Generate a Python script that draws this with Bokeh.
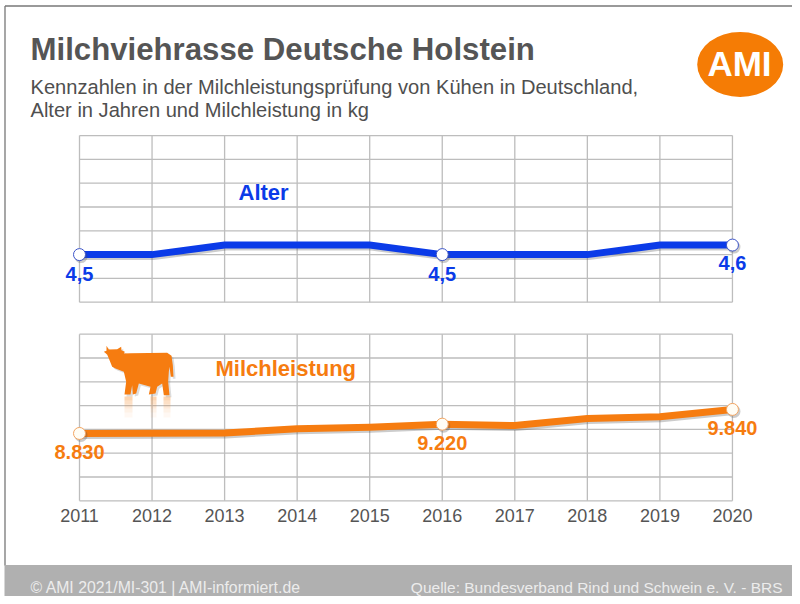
from bokeh.plotting import figure
from bokeh.models import Range1d
from bokeh.core.properties import value
from bokeh.embed import file_html
from bokeh.resources import INLINE

# ---- data
years = [2011, 2012, 2013, 2014, 2015, 2016, 2017, 2018, 2019, 2020]
alter = [4.5, 4.5, 4.6, 4.6, 4.6, 4.5, 4.5, 4.5, 4.6, 4.6]
milch = [8830, 8840, 8850, 9025, 9090, 9220, 9160, 9460, 9530, 9840]
marked_years = [2011, 2016, 2020]
alter_marked = [4.5, 4.5, 4.6]
milch_marked = [8830, 9220, 9840]
alter_labels = ["4,5", "4,5", "4,6"]
milch_labels = ["8.830", "9.220", "9.840"]
alter_ticks = [4.0, 4.25, 4.5, 4.75, 5.0, 5.25, 5.5, 5.75]
milch_ticks = [6000, 7000, 8000, 9000, 10000, 11000, 12000, 13000]

title = "Milchviehrasse Deutsche Holstein"
subtitle = ["Kennzahlen in der Milchleistungsprüfung von Kühen in Deutschland,",
            "Alter in Jahren und Milchleistung in kg"]
footer_left = "© AMI 2021/MI-301 | AMI-informiert.de"
footer_right = "Quelle: Bundesverband Rind und Schwein e. V. - BRS"

W, H = 792, 596
BLUE = "#0b3be8"
ORANGE = "#f67c10"
GRID = "#bdbdbd"
TXT = "#4f4f4f"
FONT = value("Liberation Sans")
BL = 0.4         # rendered baseline drop, in em

X0, XSTEP = 79.0, 72.55
def xr(shift=0.0):
    return Range1d(2011 - (X0 + shift) / XSTEP, 2011 + (W - X0 - shift) / XSTEP)

def yr(v0, px0, per_px, shift=0.0):
    px0 = px0 + shift
    return Range1d(v0 - (H - px0) * per_px, v0 + px0 * per_px)

ALTER_PX = 0.25 / 23.8
MILCH_PX = 1000 / 23.8

p = figure(width=W, height=H, x_range=xr(),
           y_range=yr(4.0, 301.7, ALTER_PX),
           x_axis_type=None, y_axis_type=None, toolbar_location=None,
           output_backend="svg", min_border=0, outline_line_color=None,
           background_fill_color="white", border_fill_color="white",
           margin=(0, -8, -8, 0))
p.extra_y_ranges = {
    "milch": yr(6000, 500.3, MILCH_PX),
    "alter_sh": yr(4.0, 301.7, ALTER_PX, 2.0),
    "milch_sh": yr(6000, 500.3, MILCH_PX, 2.0),
    "py": Range1d(H, 0),
}
p.extra_x_ranges = {"px": Range1d(0, W), "xsh": xr(1.5)}
PX = dict(x_range_name="px", y_range_name="py")

# ---- page frame and footer
p.segment([4.5, 4.5], [5.5, 5.5], [800, 4.5], [5.5, 565], line_color="#777777", line_width=1.3, **PX)
p.quad(left=[4], right=[800], top=[564.5], bottom=[604], fill_color="#b0b0b0", line_color=None, **PX)

# ---- grids
for name, ticks in ((None, alter_ticks), ("milch", milch_ticks)):
    kw = {"y_range_name": name} if name else {}
    lo, hi = ticks[0], ticks[-1]
    p.segment(years, [lo] * len(years), years, [hi] * len(years), line_color=GRID, line_width=1.3, **kw)
    p.segment([years[0]] * len(ticks), ticks, [years[-1]] * len(ticks), ticks, line_color=GRID, line_width=1.3, **kw)

# ---- cow (page pixels)
cow_z = [(25,40),(33,37),(33,22),(40,33),(65,32),(77,25),(78,35),(88,40),(85,45),(105,44),(215,43),(228,52),
         (232,80),(234,115),(226,115),(222,85),(220,100),(218,130),(222,170),(205,170),(200,135),(185,145),
         (180,165),(160,168),(165,145),(130,135),(122,165),(112,168),(110,140),(105,168),(87,168),(92,130),
         (85,100),(60,90),(50,85),(40,60),(35,48)]
cx = [95 + a / 3 for a, b in cow_z]
cy = [338 + b / 3 for a, b in cow_z]
p.patch([a + 2 for a in cx], [b + 2 for b in cy], fill_color="#777777", fill_alpha=0.25, line_color=None, **PX)
p.patch(cx, cy, fill_color=ORANGE, line_color=None, **PX)
bands = [(396, 400, .32), (400, 404, .24), (404, 408, .16), (408, 412, .10), (412, 417, .05)]
for top, bot, al in bands:
    p.quad(left=[124, 150, 163], right=[132, 156, 170], top=[top] * 3, bottom=[bot] * 3,
           fill_color=ORANGE, fill_alpha=al, line_color=None, **PX)

# ---- series
p.line(years, alter, x_range_name="xsh", y_range_name="alter_sh", line_color="#555555", line_alpha=0.3, line_width=7)
p.line(years, milch, x_range_name="xsh", y_range_name="milch_sh", line_color="#555555", line_alpha=0.3, line_width=7)
p.line(years, alter, line_color=BLUE, line_width=7, line_join="miter")
p.line(years, milch, y_range_name="milch", line_color=ORANGE, line_width=7, line_join="miter")
p.scatter(marked_years, alter_marked, x_range_name="xsh", y_range_name="alter_sh", size=13, fill_color="#555555", fill_alpha=0.3, line_color=None)
p.scatter(marked_years, milch_marked, x_range_name="xsh", y_range_name="milch_sh", size=13, fill_color="#555555", fill_alpha=0.3, line_color=None)
p.scatter(marked_years, alter_marked, size=12, fill_color="white", line_color="#3d55c8", line_width=1)
p.scatter(marked_years, milch_marked, y_range_name="milch", size=12, fill_color="#fffdf5", line_color="#f3a562", line_width=1)

# ---- value labels
p.text(marked_years, alter_marked, text=alter_labels, y_offset=[27 - 8, 27 - 8, 26 - 8], text_align="center",
       text_baseline="alphabetic", text_color=BLUE, text_font=FONT, text_font_size="20px", text_font_style="bold")
p.text(marked_years, milch_marked, text=milch_labels, y_offset=27 - 8, y_range_name="milch", text_align="center",
       text_baseline="alphabetic", text_color=ORANGE, text_font=FONT, text_font_size="20px", text_font_style="bold")

# ---- year labels
p.text(years, [milch_ticks[0]] * len(years), text=[str(y) for y in years], y_offset=22 - 7, y_range_name="milch",
       text_align="center", text_baseline="alphabetic", text_color="#555555", text_font=FONT, text_font_size="18px")

# ---- page texts
def t(x, y, s, size, color, bold=False, align="left"):
    p.text([x], [y], text=[s], text_align=align, text_baseline="alphabetic", text_color=color, text_font=FONT,
           text_font_size=f"{size}px", text_font_style="bold" if bold else "normal", y_offset=-BL * size, **PX)

t(30, 61, title, 31.2, "#555555", True)
t(30, 95, subtitle[0], 20.1, TXT)
t(30, 118, subtitle[1], 20.1, TXT)
t(238, 201, "Alter", 22, BLUE, True)
t(215, 377, "Milchleistung", 22, ORANGE, True)
t(30, 593, footer_left, 15.8, "#ececec")
t(782, 593, footer_right, 15.5, "#ececec", align="right")

# ---- logo
p.ellipse([739.7], [64], width=86, height=65, fill_color="#f57c05", line_color=None, **PX)
t(739, 77, "AMI", 35, "white", True, "center")

open("out.html", "w").write(file_html(p, INLINE))
